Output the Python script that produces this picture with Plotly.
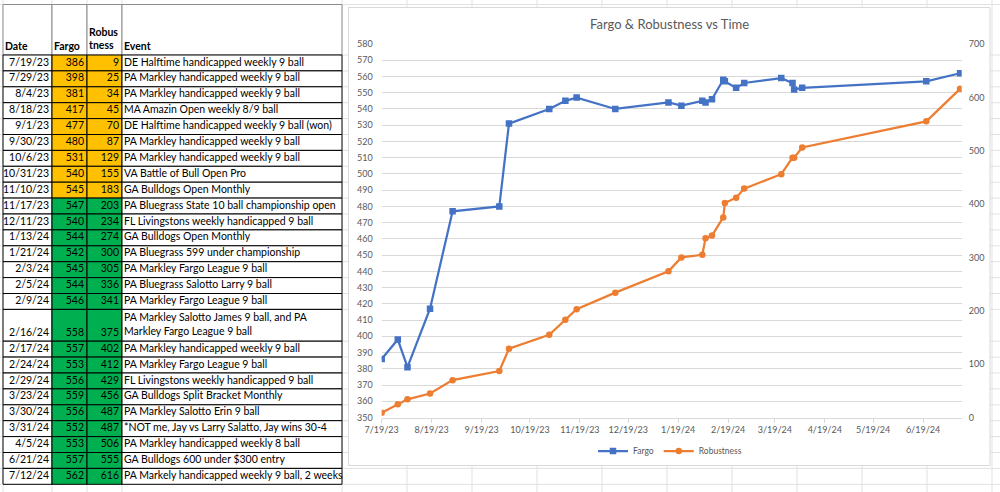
import datetime as dt
import plotly.graph_objects as go

# ---------------- data ----------------
dates = ["7/19/23", "7/29/23", "8/4/23", "8/18/23", "9/1/23", "9/30/23", "10/6/23",
         "10/31/23", "11/10/23", "11/17/23", "12/11/23", "1/13/24", "1/21/24", "2/3/24",
         "2/5/24", "2/9/24", "2/16/24", "2/17/24", "2/24/24", "2/29/24", "3/23/24",
         "3/30/24", "3/31/24", "4/5/24", "6/21/24", "7/12/24"]
fargo = [386, 398, 381, 417, 477, 480, 531, 540, 545, 547, 540, 544, 542, 545, 544,
         546, 558, 557, 553, 556, 559, 556, 552, 553, 557, 562]
robustness = [9, 25, 34, 45, 70, 87, 129, 155, 183, 203, 234, 274, 300, 305, 336,
              341, 375, 402, 412, 429, 456, 487, 487, 506, 555, 616]
events = [
    "DE Halftime handicapped weekly 9 ball",
    "PA Markley handicapped weekly 9 ball",
    "PA Markley handicapped weekly 9 ball",
    "MA Amazin Open weekly 8/9 ball",
    "DE Halftime handicapped weekly 9 ball (won)",
    "PA Markley handicapped weekly 9 ball",
    "PA Markley handicapped weekly 9 ball",
    "VA Battle of Bull Open Pro",
    "GA Bulldogs Open Monthly",
    "PA Bluegrass State 10 ball championship open",
    "FL Livingstons weekly handicapped 9 ball",
    "GA Bulldogs Open Monthly",
    "PA Bluegrass 599 under championship",
    "PA Markley Fargo League 9 ball",
    "PA Bluegrass Salotto Larry 9 ball",
    "PA Markley Fargo League 9 ball",
    "PA Markley Salotto James 9 ball, and PA<br>Markley Fargo League 9 ball",
    "PA Markley handicapped weekly 9 ball",
    "PA Markley Fargo League 9 ball",
    "FL Livingstons weekly handicapped 9 ball",
    "GA Bulldogs Split Bracket Monthly",
    "PA Markley Salotto Erin 9 ball",
    "*NOT me, Jay vs Larry Salatto, Jay wins 30-4",
    "PA Markley handicapped weekly 8 ball",
    "GA Bulldogs 600 under $300 entry",
    "PA Markely handicapped weekly 9 ball, 2 weeks",
]
headers = ["Date", "Fargo", "Robus<br>tness", "Event"]
title_text = "Fargo & Robustness vs Time"
series_names = ["Fargo", "Robustness"]
ESTABLISHED = 200  # robustness threshold: orange below, green at/above

# ---------------- styling / layout constants ----------------
W, H = 1000, 492
BLUE, ORANGE = "#4472C4", "#ED7D31"
CELL_ORANGE, CELL_GREEN = "#FFC000", "#00B050"
GRID = "#D9D9D9"
SHEET = "#E1E1E1"
TXT = "#595959"
FONT = "Lato"
TFS = 10.5

ROW_H = 15.9
HEAD_TOP, HEAD_BOT = 4.5, 55.0
col_edges = [3, 52, 87, 122, 342]

iso = [dt.datetime.strptime(d, "%m/%d/%y").strftime("%Y-%m-%d") for d in dates]

spans = [e.count("<br>") + 1 for e in events]
tops = []
t = HEAD_BOT
for s in spans:
    tops.append(t)
    t += s * ROW_H
table_bottom = t
centers = [tp + s * ROW_H / 2 for tp, s in zip(tops, spans)]
last_line = [tp + (s - 0.5) * ROW_H for tp, s in zip(tops, spans)]
heights = [s * ROW_H for s in spans]
n = len(dates)
status_fill = [CELL_ORANGE if r < ESTABLISHED else CELL_GREEN for r in robustness]


def px(x):
    return x / W


def py(y):
    return 1 - y / H


fig = go.Figure()

# ---------------- table (pixel-unit axes x2/y2) ----------------
col_fills = [["white"] * n, status_fill, status_fill, ["white"] * n]
for c in range(4):
    left, right = col_edges[c], col_edges[c + 1]
    fig.add_trace(go.Bar(
        orientation="h", y=[(HEAD_TOP + HEAD_BOT) / 2], x=[right - left], base=[left],
        width=[HEAD_BOT - HEAD_TOP], marker=dict(color="white", line=dict(color="#8C8C8C", width=1)),
        xaxis="x2", yaxis="y2", hoverinfo="skip", showlegend=False))
for c in range(4):
    left, right = col_edges[c], col_edges[c + 1]
    fig.add_trace(go.Bar(
        orientation="h", y=centers, x=[right - left] * n, base=[left] * n, width=heights,
        marker=dict(color=col_fills[c], line=dict(color="black", width=1)),
        xaxis="x2", yaxis="y2", hoverinfo="skip", showlegend=False))

tfont = dict(family=FONT, size=TFS, color="black")
PAD_R, PAD_L = 3, 2
fig.add_trace(go.Scatter(x=[col_edges[1] - PAD_R] * n, y=last_line, text=dates, mode="text",
                         textposition="middle left", textfont=tfont, xaxis="x2", yaxis="y2",
                         hoverinfo="skip", showlegend=False, cliponaxis=False))
fig.add_trace(go.Scatter(x=[col_edges[2] - PAD_R] * n, y=last_line, text=[str(v) for v in fargo],
                         mode="text", textposition="middle left", textfont=tfont, xaxis="x2",
                         yaxis="y2", hoverinfo="skip", showlegend=False, cliponaxis=False))
fig.add_trace(go.Scatter(x=[col_edges[3] - PAD_R] * n, y=last_line, text=[str(v) for v in robustness],
                         mode="text", textposition="middle left", textfont=tfont, xaxis="x2",
                         yaxis="y2", hoverinfo="skip", showlegend=False, cliponaxis=False))
fig.add_trace(go.Scatter(x=[col_edges[3] + PAD_L] * n, y=centers, text=events, mode="text",
                         textposition="middle right", textfont=tfont, xaxis="x2", yaxis="y2",
                         hoverinfo="skip", showlegend=False, cliponaxis=False))
h_lines = [h.count("<br>") + 1 for h in headers]
fig.add_trace(go.Scatter(x=[e + PAD_L for e in col_edges[:4]],
                         y=[HEAD_BOT - 8 - (k - 1) * 7 for k in h_lines], text=headers,
                         mode="text", textposition="middle right",
                         textfont=dict(family=FONT, size=TFS, color="black", weight="bold"),
                         xaxis="x2", yaxis="y2", hoverinfo="skip", showlegend=False,
                         cliponaxis=False))

# ---------------- chart ----------------
fig.add_trace(go.Scatter(x=iso, y=fargo, name=series_names[0], mode="lines+markers",
                         line=dict(color=BLUE, width=2.25),
                         marker=dict(symbol="square", size=6.5, color=BLUE),
                         xaxis="x", yaxis="y"))
fig.add_trace(go.Scatter(x=iso, y=robustness, name=series_names[1], mode="lines+markers",
                         line=dict(color=ORANGE, width=2.25),
                         marker=dict(symbol="circle", size=6.5, color=ORANGE),
                         xaxis="x", yaxis="y3"))

# ---------------- decoration shapes (sheet grid + chart box) ----------------
shapes = []
v_lines = col_edges + [342 + 65 * k for k in range(1, 11)]
for x in v_lines:
    shapes.append(dict(type="line", xref="paper", yref="paper", x0=px(x), x1=px(x), y0=0, y1=1,
                       line=dict(color=SHEET, width=1), layer="below"))
h_pos = [HEAD_TOP, HEAD_BOT] + [tp + hh for tp, hh in zip(tops, heights)]
yy = table_bottom + ROW_H
while yy < H:
    h_pos.append(yy)
    yy += ROW_H
for y in h_pos:
    shapes.append(dict(type="line", xref="paper", yref="paper", x0=0, x1=1, y0=py(y), y1=py(y),
                       line=dict(color=SHEET, width=1), layer="below"))
shapes.append(dict(type="rect", xref="paper", yref="paper", x0=px(348.5), x1=px(990),
                   y0=py(465.5), y1=py(7.5), fillcolor="white", line=dict(color=GRID, width=1),
                   layer="below"))

tick_font = dict(family=FONT, size=9, color=TXT)
PL, PR, PT, PB = 381.7, 961.7, 44.0, 417.5

fig.update_layout(
    template="none",
    width=W, height=H, margin=dict(l=0, r=0, t=0, b=0, pad=0, autoexpand=False),
    paper_bgcolor="white", plot_bgcolor="rgba(0,0,0,0)",
    barmode="overlay", shapes=shapes,
    font=dict(family=FONT, color=TXT),
    xaxis=dict(domain=[px(PL), px(PR)], type="date", range=["2023-07-19", "2024-07-13"],
               tick0="2023-07-19", dtick="M1", tickformat="%-m/%-d/%y", ticks="outside",
               ticklen=4, tickcolor=GRID, tickwidth=1, showline=True, linecolor=GRID, linewidth=1,
               showgrid=False, zeroline=False, tickfont=tick_font, anchor="y", automargin=False),
    yaxis=dict(domain=[py(PB), py(PT)], range=[350, 580], dtick=10, showgrid=True,
               gridcolor=GRID, gridwidth=1, zeroline=False, showline=False, ticks="",
               tickfont=tick_font, anchor="x", ticklabelstandoff=8, automargin=False),
    yaxis3=dict(domain=[py(PB), py(PT)], range=[0, 700], dtick=100, overlaying="y", side="right",
                showgrid=False, zeroline=False, showline=False, ticks="", tickfont=tick_font,
                anchor="x", ticklabelstandoff=6, automargin=False),
    xaxis2=dict(domain=[0, px(345)], range=[0, 345], visible=False, fixedrange=True,
                anchor="y2", automargin=False),
    yaxis2=dict(domain=[0, 1], range=[H, 0], visible=False, fixedrange=True, anchor="x2",
                automargin=False),
    legend=dict(orientation="h", x=0.67, xanchor="center", y=py(451), yanchor="middle",
                font=dict(family=FONT, size=8.5, color=TXT), itemwidth=30,
                bgcolor="rgba(0,0,0,0)", borderwidth=0),
    annotations=[dict(text=title_text, x=0.669, y=py(24), xref="paper", yref="paper",
                      xanchor="center", yanchor="middle", showarrow=False,
                      font=dict(family=FONT, size=13, color=TXT))],
)

fig.write_html("out.html", config={"displayModeBar": False},
               post_script="document.body.style.margin='0';document.body.style.overflow='hidden';")
